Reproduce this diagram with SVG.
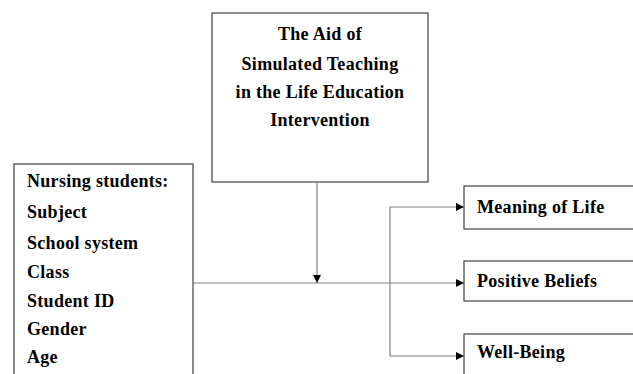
<svg xmlns="http://www.w3.org/2000/svg" width="633" height="374" viewBox="0 0 633 374">
<defs>
<style>
.box{fill:#fff;stroke:#404040;stroke-width:1.2}
.t{font-family:"Liberation Serif","Times New Roman",serif;font-weight:bold;font-size:18px;letter-spacing:0.3px;fill:#000}
.c{fill:none;stroke:#808080;stroke-width:1.2}
</style>
<marker id="ah" viewBox="0 0 10 10" refX="10" refY="5" markerWidth="8" markerHeight="8" markerUnits="userSpaceOnUse" orient="auto">
<path d="M0,0 L10,5 L0,10 Z" fill="#000"/>
</marker>
</defs>
<rect width="633" height="374" fill="#fff"/>
<g id="intervention">
<rect class="box" x="212" y="13" width="216" height="169"/>
<text class="t" text-anchor="middle" x="320" y="40">The Aid of</text>
<text class="t" text-anchor="middle" x="320" y="70">Simulated Teaching</text>
<text class="t" text-anchor="middle" x="320" y="98">in the Life Education</text>
<text class="t" text-anchor="middle" x="320" y="126">Intervention</text>
</g>
<g id="students">
<rect class="box" x="14" y="164" width="179" height="220"/>
<text class="t" x="27" y="187">Nursing students:</text>
<text class="t" x="27" y="218">Subject</text>
<text class="t" x="27" y="249">School system</text>
<text class="t" x="27" y="278">Class</text>
<text class="t" x="27" y="307">Student ID</text>
<text class="t" x="27" y="335">Gender</text>
<text class="t" x="27" y="363">Age</text>
</g>
<g id="meaning">
<rect class="box" x="464" y="186" width="180" height="43"/>
<text class="t" x="477" y="213">Meaning of Life</text>
</g>
<g id="beliefs">
<rect class="box" x="464" y="261" width="180" height="40"/>
<text class="t" x="477" y="287">Positive Beliefs</text>
</g>
<g id="wellbeing">
<rect class="box" x="464" y="334" width="180" height="50"/>
<text class="t" x="477" y="358">Well-Being</text>
</g>
<g id="connectors">
<path class="c" d="M317,182 V283" marker-end="url(#ah)"/>
<path class="c" d="M193,283 H464" marker-end="url(#ah)"/>
<path class="c" d="M390,283 V207 H464" marker-end="url(#ah)"/>
<path class="c" d="M390,283 V356 H464" marker-end="url(#ah)"/>
</g>
</svg>
